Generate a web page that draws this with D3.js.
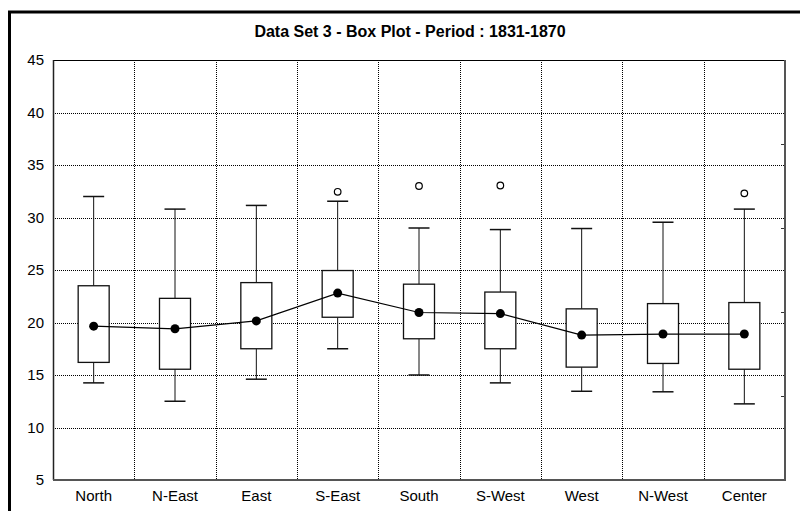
<!DOCTYPE html>
<html>
<head>
<meta charset="utf-8">
<script src="https://cdn.jsdelivr.net/npm/d3@7"></script>
<style>
  body { margin: 0; background: #fff; }
  text { font-family: "Liberation Sans", Arial, sans-serif; }
</style>
</head>
<body>
<div id="chart"></div>
<script>
let categories = ["North", "N-East", "East", "S-East", "South", "S-West", "West", "N-West", "Center"];
let whiskerHigh = [32.0, 30.8, 31.15, 31.55, 29.0, 28.85, 28.95, 29.55, 30.8];
let q3 = [23.5, 22.3, 23.8, 24.95, 23.65, 22.9, 21.3, 21.8, 21.9];
let q1 = [16.2, 15.55, 17.5, 20.5, 18.45, 17.5, 15.75, 16.1, 15.55];
let whiskerLow = [14.25, 12.5, 14.6, 17.5, 15.0, 14.25, 13.45, 13.4, 12.25];
let mid = [19.65, 19.4, 20.15, 22.8, 20.95, 20.85, 18.8, 18.9, 18.9];
let outlierCats = ["S-East", "South", "S-West", "Center"];
let outlierValues = [32.45, 33.0, 33.05, 32.3];
let yTicks = [5, 10, 15, 20, 25, 30, 35, 40, 45];
let title = "Data Set 3 - Box Plot - Period : 1831-1870";

let W = 800, H = 511;
let margin = { top: 60, right: 15, bottom: 31, left: 53 },
    width = W - margin.left - margin.right,
    height = H - margin.top - margin.bottom;

let svg = d3.select("#chart").append("svg")
    .attr("width", W)
    .attr("height", H);

// outer frame (runs off the picture on the right and bottom)
svg.append("rect")
    .attr("x", 9.5).attr("y", 12)
    .attr("width", W).attr("height", H)
    .attr("fill", "none")
    .attr("stroke", "#000")
    .attr("stroke-width", 3);

svg.append("text")
    .attr("x", 410).attr("y", 37)
    .attr("text-anchor", "middle")
    .style("font-size", "16px")
    .style("font-weight", "bold")
    .text(title);

let g = svg.append("g")
    .attr("transform", "translate(" + margin.left + "," + margin.top + ")");

let x = d3.scaleBand().domain(categories).range([0, width]).padding(0);
let y = d3.scaleLinear().domain([5, 45]).range([height, 0]);
let bw = x.bandwidth();

// grid
g.append("g")
    .selectAll("line")
    .data(yTicks.slice(1, -1))
    .enter().append("line")
    .attr("x1", 0).attr("x2", width)
    .attr("y1", d => Math.round(y(d)) + 0.5)
    .attr("y2", d => Math.round(y(d)) + 0.5)
    .attr("stroke", "#000")
    .attr("stroke-dasharray", "1,1");

g.append("g")
    .selectAll("line")
    .data(categories.slice(1))
    .enter().append("line")
    .attr("x1", d => Math.round(x(d)) + 0.5)
    .attr("x2", d => Math.round(x(d)) + 0.5)
    .attr("y1", 0).attr("y2", height)
    .attr("stroke", "#000")
    .attr("stroke-dasharray", "1,1");

// y axis labels
let yAxis = d3.axisLeft(y).tickValues(yTicks).tickSize(0).tickPadding(9);
g.append("g")
    .call(yAxis)
    .call(a => a.select(".domain").remove())
    .selectAll("text")
    .style("font-size", "15px")
    .attr("fill", "#000");

// x axis labels
let xAxis = d3.axisBottom(x).tickSize(0).tickPadding(10);
g.append("g")
    .attr("transform", "translate(0," + height + ")")
    .call(xAxis)
    .call(a => a.select(".domain").remove())
    .selectAll("text")
    .style("font-size", "15px")
    .attr("fill", "#000");

// right axis minor ticks
let yr = d3.scaleLinear().domain([0, 5]).range([height, 0]);
g.append("g")
    .attr("transform", "translate(" + width + ",0)")
    .call(d3.axisLeft(yr).ticks(5).tickSize(4).tickFormat(""))
    .call(a => a.select(".domain").remove())
    .selectAll("line").attr("stroke", "#333");

// plot frame
g.append("line").attr("x1", 0).attr("x2", width).attr("y1", 0.5).attr("y2", 0.5)
    .attr("stroke", "#000");
g.append("line").attr("x1", 0.5).attr("x2", 0.5).attr("y1", 0).attr("y2", height)
    .attr("stroke", "#222").attr("stroke-width", 1.5);
g.append("line").attr("x1", 0).attr("x2", width + 1).attr("y1", height).attr("y2", height)
    .attr("stroke", "#555").attr("stroke-width", 2);
g.append("line").attr("x1", width).attr("x2", width).attr("y1", 0).attr("y2", height)
    .attr("stroke", "#555").attr("stroke-width", 2);

let cx = c => x(c) + bw / 2;
let boxHalf = 15.5, capHalf = 10.5;

let boxes = g.selectAll(".box")
    .data(categories)
    .enter().append("g")
    .attr("class", "box");

// whiskers
boxes.append("line")
    .attr("x1", d => cx(d)).attr("x2", d => cx(d))
    .attr("y1", (d, i) => y(whiskerHigh[i])).attr("y2", (d, i) => y(q3[i]))
    .attr("stroke", "#111");
boxes.append("line")
    .attr("x1", d => cx(d)).attr("x2", d => cx(d))
    .attr("y1", (d, i) => y(q1[i])).attr("y2", (d, i) => y(whiskerLow[i]))
    .attr("stroke", "#111");
boxes.append("line")
    .attr("x1", d => cx(d) - capHalf).attr("x2", d => cx(d) + capHalf)
    .attr("y1", (d, i) => y(whiskerHigh[i])).attr("y2", (d, i) => y(whiskerHigh[i]))
    .attr("stroke", "#111").attr("stroke-width", 1.5);
boxes.append("line")
    .attr("x1", d => cx(d) - capHalf).attr("x2", d => cx(d) + capHalf)
    .attr("y1", (d, i) => y(whiskerLow[i])).attr("y2", (d, i) => y(whiskerLow[i]))
    .attr("stroke", "#111").attr("stroke-width", 1.5);

// boxes
boxes.append("rect")
    .attr("x", d => cx(d) - boxHalf)
    .attr("width", boxHalf * 2)
    .attr("y", (d, i) => y(q3[i]))
    .attr("height", (d, i) => y(q1[i]) - y(q3[i]))
    .attr("fill", "#fff")
    .attr("stroke", "#111")
    .attr("stroke-width", 1.3);

// line through middle points
let line = d3.line()
    .x(d => cx(d))
    .y((d, i) => y(mid[i]));
g.append("path")
    .datum(categories)
    .attr("d", line)
    .attr("fill", "none")
    .attr("stroke", "#000")
    .attr("stroke-width", 1.2);

g.selectAll(".dot")
    .data(categories)
    .enter().append("circle")
    .attr("class", "dot")
    .attr("cx", d => cx(d))
    .attr("cy", (d, i) => y(mid[i]))
    .attr("r", 4.5)
    .attr("fill", "#000");

// outliers
g.selectAll(".outlier")
    .data(outlierCats)
    .enter().append("circle")
    .attr("class", "outlier")
    .attr("cx", d => cx(d))
    .attr("cy", (d, i) => y(outlierValues[i]))
    .attr("r", 3.3)
    .attr("fill", "#fff")
    .attr("stroke", "#000")
    .attr("stroke-width", 1.2);
</script>
</body>
</html>
